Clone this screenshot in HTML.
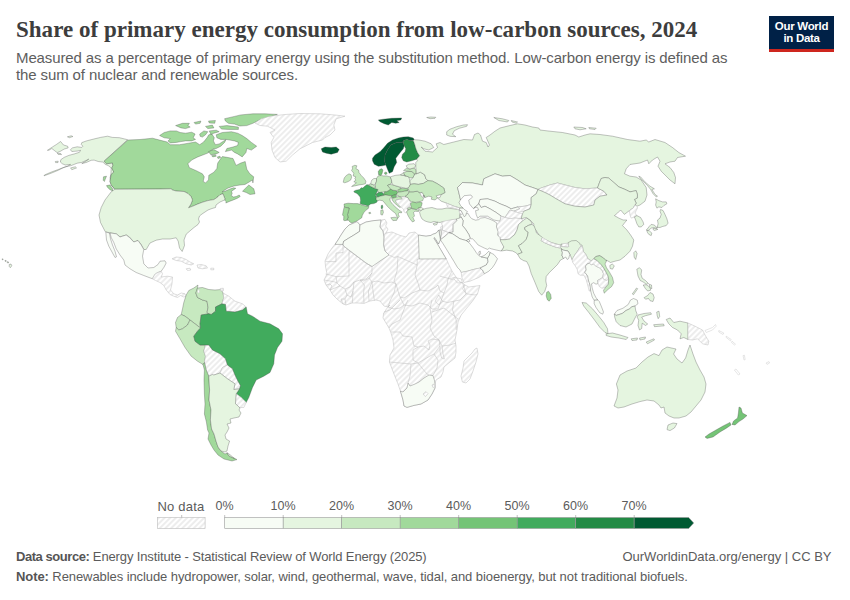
<!DOCTYPE html>
<html><head><meta charset="utf-8"><title>Share of primary energy consumption from low-carbon sources, 2024</title>
<style>
html,body{margin:0;padding:0;background:#fff;}
body{width:850px;height:600px;position:relative;overflow:hidden;font-family:"Liberation Sans",sans-serif;}
.t{position:absolute;white-space:nowrap;line-height:1;}
#title{left:16px;top:18px;font-family:"Liberation Serif",serif;font-weight:bold;font-size:23px;color:#3d3d3d;letter-spacing:0.015px;}
.sub{left:16px;font-size:15px;color:#5e5e5e;letter-spacing:-0.118px;}
#logo{position:absolute;left:769px;top:16px;width:65px;height:33px;background:#002147;border-bottom:3px solid #ce261e;color:#fff;font-weight:bold;font-size:11.5px;line-height:11.5px;text-align:center;letter-spacing:-0.3px;}
.ft{left:16px;font-size:13px;color:#5b5b5b;}
.ft b{color:#555;}
.lg{font-size:12.5px;color:#5b5b5b;}
svg{position:absolute;left:0;top:0;}
</style></head><body>
<div id="title" class="t">Share of primary energy consumption from low-carbon sources, 2024</div>
<div class="t sub" style="top:49.5px">Measured as a percentage of primary energy using the substitution method. Low-carbon energy is defined as</div>
<div class="t sub" style="top:67.3px">the sum of nuclear and renewable sources.</div>
<div id="logo"><div style="margin-top:5px">Our World</div><div>in Data</div></div>
<svg width="850" height="600" viewBox="0 0 850 600">
<defs>
<pattern id="hatch" width="4" height="4" patternUnits="userSpaceOnUse" patternTransform="rotate(-45)"><rect width="4" height="4" fill="#fff"/><path d="M-1 2H5" stroke="#dfdfdf" stroke-width="1.1" fill="none"/></pattern>
</defs>
<g id="legend" transform="translate(0.7,0)" stroke="#999" stroke-width="0.6">
<rect x="156.6" y="517.5" width="47.8" height="11" fill="url(#hatch)" stroke="#bbb"/>
<rect x="224" y="517.5" width="58.5" height="11" fill="#f7fcf5"/>
<rect x="282.5" y="517.5" width="58.5" height="11" fill="#e5f5e0"/>
<rect x="341" y="517.5" width="58.5" height="11" fill="#c7e9c0"/>
<rect x="399.5" y="517.5" width="58.5" height="11" fill="#a1d99b"/>
<rect x="458" y="517.5" width="58.5" height="11" fill="#74c476"/>
<rect x="516.5" y="517.5" width="58.5" height="11" fill="#41ab5d"/>
<rect x="575" y="517.5" width="58.5" height="11" fill="#238b45"/>
<path d="M633.5 517.5H688L693 523L688 528.5H633.5Z" fill="#005a32"/>
<path d="M224 515v2.5M282.5 515v2.5M341 515v2.5M399.500 515v2.5M458 515v2.5M516.500 515v2.5M575 515v2.5M633.500 515v2.500M181 515v2.5" fill="none"/>
</g>
<g id="map" stroke="#444" stroke-width="0.32" stroke-linejoin="round">
<path d="M47.4 150.3L51.8 147.4L56.5 144.4L60.6 141.5L63.5 145L67.6 146.2L68.2 147.9L64.1 149.1L60 151.5L57.1 152.6L54.1 150.3L51.8 148.5L48.8 150.3Z" fill="#e5f5e0"/>
<path d="M57.3 153.2L60.8 153.6L61.5 154.6L58.2 154.4Z" fill="#e5f5e0"/>
<path d="M55.3 161.5L58.2 161.2L58 162.6L55.6 162.6Z" fill="#e5f5e0"/>
<path d="M70.6 167.9L75.3 166.8L76.5 167.9L71.8 169.7Z" fill="#e5f5e0"/>
<path d="M67.4 136.8L71.2 135.8L72.9 136.5L69.4 137.7Z" fill="#e5f5e0"/>
<path d="M127.6 139.7L119.4 137.7L112.4 137.4L107.6 136.2L100.6 137.4L93.5 139.1L86.5 140.9L81.8 142.6L81.2 144.4L82.9 146.2L81.8 147.4L77.1 146.8L72.4 147.9L70.4 149.7L71.8 151.5L77.1 151.1L80.6 150.3L79.4 152.3L74.7 153.8L68.8 155.4L64.1 157.4L60.8 159.7L60.4 162.1L62.4 163.8L65.3 165L70.6 164.4L67.6 166.2L62.9 167.9L58.2 170.3L51.2 173.2L44.1 175.8L44.4 175L51.2 172.1L58.2 169.5L65.3 166.8L71.2 165.6L77.1 163.2L81.8 162.4L86.5 160.3L88.8 159.1L85.3 161.5L81.8 163.6L86.5 162.4L91.2 160.3L94.1 160.1L98.2 161.5L102.9 162.1L105.3 164.4L108.2 165.6L111.2 167.9L110.9 174.4L110 177.9L110.6 181.5L112.4 185.6L114.7 189.1L111.2 185L110 181.5L110.6 177.9L111.2 174.4L113.8 172.1L111.8 167.9L112.9 165.6L112.4 162.9L106.5 163.8L104.1 161.2Z" fill="#e5f5e0"/>
<path d="M128 140L140 139.5L152.5 138.2L159.6 140.1L167.2 142L170.3 144.7L179.5 144.7L188.6 143.2L195.5 142L199.7 144.7L203.6 142L207 137.8L208.8 134.8L211.9 134L214.3 137.8L213.4 140.9L215.4 144.7L219.2 143.9L223.8 140.9L226.1 139.4L224.6 142.4L220.8 146.2L216.2 148.5L213.1 149L207.8 153.1L197.8 156.9L191.7 160L187.9 163.8L189.4 167.7L196.3 170.7L202.4 173.8L204.3 176.8L203.2 181.4L205.5 182.9L208.5 179.9L208.8 175.3L213.9 172.2L216.9 168.4L217.7 163.1L220.8 158.5L222.3 156.6L226.9 157.3L233 158.5L236.1 165.4L240.7 163.1L245.2 161.5L246.8 169.2L249.8 173.8L253.7 176.8L252.9 182.9L252.5 180L245 184.5L240 185L234 186L228 188L224 190.5L222 192L226 190.8L230 189L233.5 187.8L235.8 188.3L233.8 189.7L231.5 191.2L232.2 193.5L231.2 195.5L233.5 197L236.2 196.5L239.2 195L240.2 196.5L237.5 198.2L234 199.7L230 201.2L225.8 203L226.2 201.8L224.5 200L225 199L224 196.5L223 193.7L220 194.7L218 196.7L214 199.6L208 200.6L203 202.1L198 203.9L193 206.1L188.5 207.8L191 204L192.5 200L191 196.5L188 193.5L184 191.5L176 191L172.5 190L171 188.8L160 189L115 189.2L114.7 189.1L111.2 185L110 181.5L110.6 177.9L111.2 174.4L113.8 172.1L111.8 167.9L112.9 165.6L112.4 162.9L106.5 163.8L104.1 161.2Z" fill="#a1d99b"/>
<path d="M159.6 135.5L164.2 132.5L170.3 130.9L176.4 130.9L180.2 132.5L185.6 133.2L191.7 132.2L195.1 134L193.2 137.8L195.5 139.4L191.7 140.9L185.6 140.9L181 141.6L176.4 142.4L170.3 142.9L168 140.9L170.3 138.6L164.2 137.8Z" fill="#a1d99b"/>
<path d="M175.6 125.6L182.5 123.3L189.4 123.3L187.9 125.6L190.2 127.1L185.6 128.6L181 127.9Z" fill="#a1d99b"/>
<path d="M194 122.5L200.9 121L200.1 123.3L195.5 124.1Z" fill="#a1d99b"/>
<path d="M208.5 121L215.4 120.5L214.7 123.3L209.3 123Z" fill="#a1d99b"/>
<path d="M205.5 126.4L212.4 125.1L213.9 127.9L207.8 128.6Z" fill="#a1d99b"/>
<path d="M199.7 134L203.9 130.9L207.8 131.7L205.5 134.8L202.4 137.1L200.1 136.3Z" fill="#a1d99b"/>
<path d="M209.3 130.9L216.2 130.2L219.2 131.7L213.9 133.2L210.8 134.3Z" fill="#a1d99b"/>
<path d="M219.2 126.4L226.9 125.6L238.4 127.1L238.4 129.4L228.4 129.4L221.5 129.1Z" fill="#a1d99b"/>
<path d="M224.6 118.7L234.5 116.4L240.7 114.9L252.9 113.8L265.1 113.8L277.4 114.4L268.2 117.5L259 120.2L252.9 123.3L246.8 125.6L239.9 126L234.5 124.1L228.4 123.3L225.4 121Z" fill="#a1d99b"/>
<path d="M216.2 134.8L222.3 132.5L231.5 131.7L237.6 133.2L242.2 135.5L246.8 138.6L251.4 142.4L256.7 146.2L251.4 150.1L246.8 148.5L246 152.4L242.2 156.9L237.6 153.9L234.5 152.4L231.5 150.1L225.4 151.6L226.9 148.5L233 147L237.6 145.5L238.4 142.4L234.5 140.9L229.9 140.1L226.1 139.4L220.8 139.4L216.9 137.8Z" fill="#a1d99b"/>
<path d="M208.5 151.6L213.9 149.6L219.2 152.4L216.2 153.9L210.8 154.7Z" fill="#a1d99b"/>
<path d="M211.6 155.7L215.4 154.7L216.2 156.2L212.8 156.9Z" fill="#a1d99b"/>
<path d="M217.4 156.9L220 156.2L220.5 157.7L218 158.5Z" fill="#a1d99b"/>
<path d="M106.5 185.6L110 185L112.4 188.5L112.9 190.9L110 189.7L107.6 187.4Z" fill="#a1d99b"/>
<path d="M103.5 176.8L106.5 176.2L105.3 179.1L104.4 181.5L103.2 180.3Z" fill="#a1d99b"/>
<path d="M115 189.2L160 189L171 188.8L172.5 190L176 191L184 191.5L188 193.5L191 196.5L192.5 200L191 204L188.5 207.8L193 206.1L198 203.9L203 202.1L208 200.6L214 199.6L218 196.7L220 194.7L223 193.7L224 196.5L225 199L224.5 200L220 202L216 205L215.5 207.5L212 208.5L208 210L205 212L202 214L199.5 216L198.5 219L199.5 222L198 224.5L194 227.5L191 230L186.2 234.2L184 240L184.5 245.5L182.2 251.5L179.5 248L178.2 241.2L176.2 237.8L170 239L162.5 239L156.2 240.2L150 243L146.2 249.5L143.8 249.5L141.2 244.5L138 240.5L133.8 242L129.5 237L126.2 235L120 236.8L116.2 233.8L105.8 232L105 231.2L100.5 222.5L99 215L101.2 207.5L105 200L111.2 191.8Z" fill="#e5f5e0"/>
<path d="M242.5 191.2L248.8 185L253.8 188.8L255 193.8L250 194.5L246.2 192.5Z" fill="#a1d99b"/>
<path d="M255 123L261.2 118.8L270 116.2L285 114.5L300 113.5L320 113.8L335 115L345 116.2L336.2 118.8L333.8 125L335 130L330 135L325 137.5L322.5 140L312.5 142.5L300 148.8L292.5 155L286.2 161.2L280 162L275 157.5L272 150L271.2 142.5L273.8 137.5L270 132.5L275 130L267.5 126.2L260 125.5Z" fill="url(#hatch)" stroke="#bcbcbc" stroke-width="0.5"/>
<path d="M321.2 148.8L325 147L331.2 147.5L336.2 147L339.2 149.5L337.5 152.5L331.2 154.2L326.2 153.2L322.5 152Z" fill="#005a32"/>
<path d="M105.8 232L109.5 233L110.5 238.8L112.5 245L115 251.2L116.5 256.8L115 257.5L112 252L108.8 246.2L106.5 240Z" fill="#f7fcf5"/>
<path d="M110 233L116.2 233.8L120 237L126.2 235L129.5 237.5L133.8 242L138 240.5L141.2 245L143.8 249.5L142.5 256.2L143.8 263.8L148 268L153.8 267.5L158 264.5L160 261.2L165 260.8L166.2 263L163.8 267.5L161.2 271.2L158 272.5L155.5 273.8L153.8 276.2L152.5 278.8L143.8 275.5L136.2 272.5L130 268.8L125 265L123.8 260L120 255L116.2 248.8L113.8 242.5L111.2 237.5Z" fill="#f7fcf5"/>
<path d="M152.5 278.8L153.8 276.2L155.5 273.8L158 272.5L161.2 271.2L162.5 273.8L161.2 277L167.5 276.2L172.5 277L172 283.8L170.5 290L173.8 293.8L177.5 295L181.2 293L185 293.8L186.2 296.2L183.8 297L180.5 295.5L177.5 297.5L173.8 296.2L170 294.5L166.2 290L163.8 285.5L160 282.5L155.5 280.5Z" fill="url(#hatch)" stroke="#bcbcbc" stroke-width="0.5"/>
<path d="M172 258.8L176.2 257L181.2 257.5L186.2 259.5L190 262L193.8 263.8L191.2 265L186.2 263.8L181.2 261.2L176.2 260.5Z" fill="url(#hatch)" stroke="#bcbcbc" stroke-width="0.5"/>
<path d="M197 265L201.2 264.5L206.2 265.8L207.5 268L202.5 268.8L198 268Z" fill="url(#hatch)" stroke="#bcbcbc" stroke-width="0.5"/>
<path d="M186.2 268.8L190 268.2L190.8 270L187.5 270.5Z" fill="url(#hatch)" stroke="#bcbcbc" stroke-width="0.5"/>
<path d="M210.8 268.2L213.8 268.2L213.8 269.8L210.8 269.8Z" fill="url(#hatch)" stroke="#bcbcbc" stroke-width="0.5"/>
<path d="M186.2 295L188.8 290.5L193.8 288L198 285L197 290L195.8 293L197.5 297.5L202.5 300L207 301.2L208 307.5L207 312.5L208.8 313.8L201.2 315L200 323.8L200.5 328L195 323.8L190 320L185 316.2L181.2 314.5L182.5 308.8L183.8 302.5Z" fill="#c7e9c0"/>
<path d="M195.8 293L197.5 288L202.5 287.5L208.8 289.5L215 290L221.2 289.5L223 293L223.8 297.5L222 303.8L215.5 307L215.5 311.2L211.2 314.5L208.8 313.8L207 312.5L208 307.5L207 301.2L202.5 300L197.5 297.5Z" fill="#c7e9c0"/>
<path d="M223 293L228.8 296.2L235 301.2L242.5 303.8L246.2 307L242.5 310L235 312L226.2 311.2L225.5 304.5L222 303.8L223.8 297.5Z" fill="url(#hatch)" stroke="#bcbcbc" stroke-width="0.5"/>
<path d="M181.2 314.5L185 316.2L190 320L187.5 325L182.5 328.8L178.8 330L176.2 327.5L175.5 322.5L177.5 317.5Z" fill="#c7e9c0"/>
<path d="M176.2 327.5L175.5 331.2L180 338.8L185 347.5L191.2 356.2L197.5 361.2L203 364.5L204.5 362.5L205.5 356.2L203.8 351.2L205.5 345L200 345L195 341.2L193.8 336.2L197.5 331.2L200.5 328L195 323.8L190 320L187.5 325L182.5 328.8L178.8 330Z" fill="#c7e9c0"/>
<path d="M205.5 345L208.8 345L212.5 350L220 353.8L225.5 358.8L227.5 365L222.5 367.5L220 373L213.8 375L210 376.2L208.8 376.2L206.2 370L204.5 362.5L205.5 356.2L203.8 351.2Z" fill="url(#hatch)" stroke="#bcbcbc" stroke-width="0.5"/>
<path d="M222.5 367.5L227.5 365L232.5 368.8L235 375L238 381.2L240.5 385.5L239.5 388.8L233.8 389.5L235 383.8L227.5 378.8L220 373Z" fill="url(#hatch)" stroke="#bcbcbc" stroke-width="0.5"/>
<path d="M201.2 315L208.8 313.8L211.2 314.5L215.5 311.2L215.5 307L222 303.8L225.5 304.5L226.2 311.2L235 312L242.5 310L246.2 307L247.5 313.8L252.5 316.2L260 321.2L270 323.8L278.8 328.8L282.5 333.8L282 341.2L277.5 347.5L274.5 355L273.8 363.8L270 372.5L263.8 376.2L256.2 380L252.5 387.5L248.8 397.5L246.2 402.5L241.2 397.5L236.2 393.8L239.5 388.8L240.5 385.5L238 381.2L235 375L232.5 368.8L227.5 365L225.5 358.8L220 353.8L212.5 350L208.8 345L205.5 345L200 345L195 341.2L193.8 336.2L197.5 331.2L200.5 328L200 323.8Z" fill="#41ab5d"/>
<path d="M236.2 393.8L241.2 397.5L246.2 402.5L243.8 407.5L238.8 407.5L235.5 403.8L235.8 397.5Z" fill="url(#hatch)" stroke="#bcbcbc" stroke-width="0.5"/>
<path d="M204.4 370L204 380L204.4 394L205 404L204.4 414L206.4 422L207.6 430L209 433L208 439L211 445L214 450L218 455L224 459L232 461L237 459.6L234 458L229 456L227 453L225 454L221 451L218 447L216 441L214 434L211.6 429L210.4 420L211 410L209 400L209.6 390L209 380L208.8 376.2L206.2 370L204.5 362.5L203 364.5Z" fill="#a1d99b"/>
<path d="M208.8 376.2L212.4 374.4L213.8 375L220 373L227.5 378.8L235 383.8L233.8 389.5L239.5 388.8L236.2 393.8L235.8 397.5L235.5 403.8L237 405L240 408L239 410L241 413L239 417L234 418L230 419L231 423L227 424L229 428L227 432L225 435L226 439L229.6 441L228 446L227 451L225 452L221 451L218 447L216 441L214 434L211.6 429L210.4 420L211 410L209 400L209.6 390L209 380Z" fill="#e5f5e0"/>
<path d="M227 452.6L229 456L234.4 458.6L230.4 455Z" fill="#e5f5e0"/>
<path d="M378.3 120L383.3 119.2L391.7 118.3L401.7 118L400.8 120L396.7 120.8L399.2 122.5L395.8 123.3L391.7 122.5L388.3 125L384.2 123.7L380 121.7Z" fill="#005a32"/>
<path d="M343.2 182.2L344.2 178L346.4 175.4L349 173.8L351.1 174.8L351.6 177.5L350.6 180.1L347.9 181.7L344.8 182.8Z" fill="#c7e9c0"/>
<path d="M352.2 166.4L354.8 165.3L356.9 165.8L355.9 168.5L358.5 170.1L359.1 172.7L361.2 175.4L363.8 178L365.9 181.2L365.4 183.8L362.8 184.4L359.1 184.9L354.8 185.9L351.6 186.5L354.3 184.4L356.4 182.8L353.8 181.7L355.9 180.1L354.8 178.5L355.9 176.9L353.2 175.9L353.8 173.2L351.6 170.6L352.5 168.5Z" fill="#c7e9c0"/>
<path d="M344 204L348 203.2L353.3 203.6L357.5 203.6L360.2 204.3L362.8 205.4L366.5 206.1L369 206.4L368.3 208.5L366 210.1L363.7 212.8L362.3 215.4L361.8 217.7L359.1 219.6L356.5 221.2L353.8 222.3L351.7 223L349.9 222L348.5 220.2L346.9 220.2L348 217.5L347.5 214.4L348.5 211.2L349.1 208L345.9 207.5L344.3 206.9Z" fill="#a1d99b"/>
<path d="M344.3 206.9L345.9 207.5L349.1 208L348.5 211.2L347.5 214.4L348 217.5L346.9 220.2L344.8 220.7L343.6 220.2L343.8 216.5L342.5 214.9L343.2 211.2L343.8 208.5Z" fill="#a1d99b"/>
<path d="M368.6 212.8L370.2 212.2L370.8 213.3L369.4 213.8Z" fill="#a1d99b"/>
<path d="M353.8 191.2L355.9 190.2L359.6 189.6L361.2 187.7L362.8 188.1L364.4 186.5L367 184.6L369.1 185.4L371.8 187L374.9 188.4L378.1 189.6L377.1 191.8L376 193.7L375.5 195.5L376.5 197.1L376 199.2L377.6 200.8L376.5 202.4L373.9 203.6L370.7 203.9L368.1 206.1L365.4 205L362.2 204.5L360.1 203.4L360.6 200.2L360.1 197.1L358.5 194.9L356.9 193.4L354.3 192.3Z" fill="#41ab5d"/>
<path d="M381.3 205.5L382.4 205L382.9 207.1L382.1 208.9L381.1 208.2Z" fill="#41ab5d"/>
<path d="M380.8 210.3L382.9 209.8L383.4 212.4L382.4 215.1L380.8 214.5Z" fill="#c7e9c0"/>
<path d="M368.6 184.6L370.7 183.8L373.9 184.9L375.5 187L374.9 188.4L371.8 187L369.1 185.4Z" fill="#c7e9c0"/>
<path d="M371.8 180.1L373.9 178.5L376.5 178.5L376.5 181.2L375.5 183.8L373.9 184.9L370.7 183.8L371.2 181.7Z" fill="#e5f5e0"/>
<path d="M376.5 178.5L378.1 175.9L380.8 175.4L383.4 175.9L386.6 175.9L390.3 176.9L391.4 179.6L391.9 182.8L389.8 184.4L387.6 185.4L389.2 187.5L390.8 189.1L388.7 190.7L386.6 191.8L384.5 191.8L381.8 192.3L378.6 192.6L377.6 190.7L378.1 189.6L374.9 188.4L375.5 187L375.5 183.8L376.5 181.2Z" fill="#c7e9c0"/>
<path d="M378.6 174.8L378.3 171.6L379.7 169.5L381.8 168.7L382.9 170.1L382.4 172.2L381.8 174.3L380.8 175.4Z" fill="#74c476"/>
<path d="M384.5 172.7L386.1 171.9L387.1 173.2L386.1 174.6L384.7 174Z" fill="#74c476"/>
<path d="M376 193.9L378.6 192.6L381.8 192.3L383.9 193.9L383.4 195.5L380.8 196L378.1 197.1L376.5 196.5Z" fill="#41ab5d"/>
<path d="M383.9 193.9L384.5 191.8L386.6 191.8L388.7 190.7L390.8 189.1L392.9 190.2L396.6 190.7L397.7 192.3L396.6 194.4L395.1 194.9L391.4 195.8L388.7 195.5L385.5 194.9L383.4 195.5Z" fill="#74c476"/>
<path d="M387.6 185.4L389.8 184.4L392.9 184.9L396.1 185.9L399.8 187L401.4 188.4L398.8 189.6L396.6 190.7L392.9 190.2L390.8 189.1L389.2 187.5Z" fill="#c7e9c0"/>
<path d="M390.3 176.9L395.1 175.4L400.4 174.8L405.6 175.9L408.8 176.9L409.9 180.6L410.4 184.4L409.4 186.5L407.8 188.1L405.6 188.4L403.5 187.7L399.8 187L396.1 185.9L392.9 184.9L391.9 182.8L391.4 179.6Z" fill="#e5f5e0"/>
<path d="M397.7 190.7L398.8 189.6L401.4 188.4L405.6 188.4L408.3 189.1L407.8 190.7L404.6 191.2L401.4 191.8L398.2 192.3Z" fill="#a1d99b"/>
<path d="M397.7 192.3L401.4 191.8L404.6 191.2L407.8 190.7L409.4 191.8L407.8 194.4L405.1 196.5L401.4 197.1L398.2 196L396.6 194.4Z" fill="#c7e9c0"/>
<path d="M391.4 195.8L395.1 194.9L396.6 195.5L396.1 197.3L393.5 198.1L391.7 197.3Z" fill="#74c476"/>
<path d="M391.7 198.1L393.5 198.1L396.1 197.3L398.2 196.5L401.4 197.3L402.5 199.2L399.3 199.4L396.6 199.7L395.6 201.3L397.7 203.9L400.9 207.1L399.8 207.4L396.6 205L394 202.4L392.4 200.2Z" fill="#c7e9c0"/>
<path d="M376.5 197.1L378.1 197.1L380.8 196L383.4 195.5L385.5 194.9L388.7 195.5L391.4 195.8L391.7 197.3L389.8 198.6L390.3 201.3L392.9 204.5L396.1 207.6L399.3 210.3L401.9 211.9L401.4 212.9L399.3 212.4L398.2 214L399.3 216.6L397.7 218.2L396.6 216.1L395.6 213.5L392.9 211.4L390.3 209.2L387.6 206.6L385 203.4L382.9 200.8L379.7 200.2L377.6 200.8L376 199.2Z" fill="#c7e9c0"/>
<path d="M390.8 217.7L395.1 217.2L397.7 218.2L396.6 220.4L392.9 220.6Z" fill="#c7e9c0"/>
<path d="M395.6 201.3L396.6 199.7L399.3 199.4L402.5 199.2L401.4 197.3L405.1 196.5L407.8 197.6L409.9 200.8L410.7 203.4L409.9 206.1L407.8 207.1L406.7 208.2L407.8 210.6L405.6 212.9L404.1 211.9L403.5 209.2L401.9 207.6L400.9 207.1L397.7 203.9Z" fill="url(#hatch)" stroke="#bcbcbc" stroke-width="0.5"/>
<path d="M407.8 194.4L409.4 191.8L413.1 191.8L417.3 191.2L419.9 192.8L421.5 196L423.6 198.1L422.6 200.8L418.9 201.8L415.2 202.4L412 202.1L409.9 200.8L407.8 197.6L405.1 196.5Z" fill="#c7e9c0"/>
<path d="M419.9 192.8L422.1 192.3L423.6 194.9L424.2 197.6L423.6 198.1L421.5 196Z" fill="url(#hatch)" stroke="#bcbcbc" stroke-width="0.5"/>
<path d="M410.5 203.5L412.5 202L416.5 202.8L420 202L422.2 202.8L421.5 206L420 208L418.5 208L416.5 209.5L413.5 209L411.5 208L410.8 205.5Z" fill="#a1d99b"/>
<path d="M407.5 208.2L410 207L411.5 208L411.5 208.5L408 210Z" fill="#c7e9c0"/>
<path d="M406.5 212L408 210L411.5 208.5L413.5 209.2L416.5 209.7L419 210.2L418.5 211.5L415 211.2L413.5 212.5L414.5 216L413 217.5L414.5 221L412.5 222L410 219L408 215.5Z" fill="#c7e9c0"/>
<path d="M409.9 180.6L413.1 177.5L414.6 173.8L416.2 173.8L420.5 172.2L424.7 174.8L425.8 178.5L427.9 180.6L423.6 183.3L418.4 184.4L414.1 183.8L410.4 184.4Z" fill="#e5f5e0"/>
<path d="M403.5 172.7L407.8 171.1L412 171.6L414.6 173.8L413.1 177.5L409.9 178L408.8 176.9L405.6 175.9L404.1 174.8Z" fill="#c7e9c0"/>
<path d="M403.5 170.6L406.2 168.5L409.9 169L414.1 167.9L416.2 170.6L416.2 173.8L414.6 173.8L412 171.6L407.8 171.1Z" fill="#c7e9c0"/>
<path d="M406.2 165.8L408.8 164.2L414.1 163.7L415.7 165.8L414.1 167.9L409.9 169L407.2 167.9Z" fill="#e5f5e0"/>
<path d="M400.4 174.8L403.5 172.7L404.1 174.8L405.6 175.9Z" fill="#e5f5e0"/>
<path d="M372.5 158.3L375 155L380 151.7L383.3 148.3L387.5 143.3L392.5 140L398.3 138L403.3 137L408.3 136.7L413.3 138L414.2 140L410 140.8L407 139.2L403.3 140.8L402.5 142.5L396.7 142.5L390.8 145L387.5 150L385 155L384.7 161.7L385.8 165L382.5 165.8L378.3 166.3L374.2 164.2L372.5 160.8Z" fill="#005a32"/>
<path d="M385.8 165L387.5 169.2L389.2 173.3L392.5 171.7L394.2 166.7L396.7 162.5L395.8 158.3L398.3 155L400.8 151.7L403.3 148.7L404.2 145.8L403.3 142.5L403.3 140.8L402.5 142.5L396.7 142.5L390.8 145L387.5 150L385 155L384.7 161.7Z" fill="#005a32"/>
<path d="M403.3 140.8L407 139.2L410 140.8L413.3 140.5L414.7 144.2L415.8 148.3L417.5 152.5L419.7 155.8L416.7 159.2L411.7 160.8L406.7 162L403.3 160.8L401.7 157.5L402.5 154.2L405 151.7L405.8 148.7L404.2 145.8L403.3 142.5Z" fill="#238b45"/>
<path d="M446.7 131.7L450 129.2L456.7 126.7L463.3 125L467.5 124.7L466.7 126.3L459.2 128.3L454.2 130.8L452.5 134.2L455.8 136.7L450 136.3L446.7 135Z" fill="#e5f5e0"/>
<path d="M426.7 117.5L430.8 117L435.8 117.3L435 118.3L430 118.7Z" fill="#e5f5e0"/>
<path d="M414.2 139.7L418.8 140L425 141.2L431.2 143.8L433.8 147.5L428.8 150L423.8 148.8L421.2 147L425 151.2L432.5 152L437.5 147.5L436.2 143.8L440 142.5L443.8 144.5L453.8 142L463.8 139.5L472.5 140L474.5 134.5L478 133L480.5 135L482.5 141.2L486.2 142.5L488 147L489.5 145L486.2 137.5L490 135L495 131.2L500 128L510 125.5L517.5 123.8L525 125L532.5 127L538.8 128L540 130L550 131.2L562.5 132.5L575 135L578.8 137L585 135L590 133.8L600 134.5L612.5 136.2L627.5 139.5L640 141.2L646.2 140L648.8 142L655 139.5L665 142.5L672.5 147.5L678.8 152.5L685.5 156.2L677.5 157.5L675 161.2L670 162L665 163.8L670 167.5L673.8 172.5L675.5 177.5L675 183.8L670 180L665 175L661.2 171.2L658 166.2L660 161.2L657.5 157L652.5 160L648.8 163.8L647.5 160L640 163L630 164.5L626.2 168.8L624.5 173.8L630 176.2L636.2 177L641.2 180L646.2 187.5L647 195L645 201.2L640 205L637 206.2L635 205L636.2 203.1L634.4 199.4L637.2 198.1L637.5 195L636.2 190.6L630 191.9L625 189.4L618.8 186.9L613.8 182.5L608.8 178.1L605 177.5L601.2 178.5L599.5 182.5L597.5 188L585 188.8L575 187.5L565 185L557.5 183L550 185L541.2 188L538 189.5L532.5 187.5L525 185L517.5 180L510 175.5L502.5 176.2L495 173.8L483.8 178.8L482.5 185L472.5 183L462.5 182.5L457.5 187.5L458.8 192.5L460.5 199.8L459 202.5L460.5 205.5L463.2 208.2L459.9 208L453.8 206.2L446.2 203L441.2 201.2L437.5 198L440 197.5L441.2 194.5L445 192.5L443.8 188L437.5 183.8L432.5 181.2L428 180.8L427.9 180.6L425.8 178.5L424.7 174.8L420.5 172.2L416.2 173.8L416.2 170.6L415.8 167.5L415.8 162.5L417.5 160.8L416.7 159.2L419.7 155.8L417.5 152.5L415.8 148.3L414.7 144.2L413.3 140.5Z" fill="#e5f5e0"/>
<path d="M493.8 117.5L502.5 118.8L508.8 120.5L507.5 122L498.8 120.5Z" fill="#e5f5e0"/>
<path d="M511.2 120.5L517.5 122L516.2 123.2L512 122Z" fill="#e5f5e0"/>
<path d="M573.8 127L582.5 127.5L586.2 128.8L580 129.8L575 128.8Z" fill="#e5f5e0"/>
<path d="M588.8 127.5L596.2 128.2L595 129.5L589.5 128.8Z" fill="#e5f5e0"/>
<path d="M638.8 176.2L640.6 176.9L645 181.9L650 186.2L654.4 188.8L651.9 189.4L655 194.4L657.5 196.2L656.2 196.9L653.1 193.8L650.6 189.4L647.5 185.6L643.8 181.9L640 178.1Z" fill="#e5f5e0"/>
<path d="M409.4 186.5L410.4 184.4L414.1 183.8L418.4 184.4L423.6 183.3L427.9 180.6L432.5 181.2L437.5 183.8L443.8 188L445 192.5L441.2 194.5L436.2 195.8L437.5 198L435 200L431.2 199.2L432 197L428.8 196.2L425 197.5L423.8 195L424.2 197.6L423.6 194.9L422.1 192.3L419.9 192.8L417.3 191.2L413.1 191.8L409.4 191.8L408.3 189.1L407.8 188.1Z" fill="#c7e9c0"/>
<path d="M458.8 192.5L457.5 187.5L462.5 182.5L472.5 183L482.5 185L483.8 178.8L495 173.8L502.5 176.2L510 175.5L517.5 180L525 185L532.5 187.5L538 189.5L536.2 193.8L531.2 197.5L531.2 204.5L525 206.2L517.5 207L511.2 208.8L506.2 206.2L500 203.8L495 201.2L487.5 198.8L480 199.5L478.8 203.8L476.2 206.2L473.7 208.5L472.5 207.7L469.5 204L468.7 200.2L472.5 197.2L471 195L464.2 195.7L460.5 199.8Z" fill="#f7fcf5"/>
<path d="M478.8 203.8L480 199.5L487.5 198.8L495 201.2L500 203.8L506.2 206.2L511.2 208.8L517.5 207L520 208.8L513.8 211.2L510 210L507.5 213.8L505 217.5L501.2 216.2L496.2 212.5L490 208.8L485 206.2L481.2 207.5Z" fill="#f7fcf5"/>
<path d="M473.7 208.5L476.2 206.2L478.8 203.8L481.2 207.5L485 206.2L490 208.8L496.2 212.5L501.2 216.2L500 221.2L493.8 220L487.5 216.2L480 216.2L477.7 218.2L476.2 214.5L475.5 210.7L478.5 210L477.7 207.7L474.7 207Z" fill="#f7fcf5"/>
<path d="M517.5 207L525 206.2L531.2 204.5L530 208.8L523.8 211.2L517.5 212.5L513.8 211.2L520 208.8Z" fill="url(#hatch)" stroke="#bcbcbc" stroke-width="0.5"/>
<path d="M510 210L513.8 211.2L517.5 212.5L522.5 213.8L521.2 218.8L515 218L510 218.8L505 217.5L507.5 213.8Z" fill="url(#hatch)" stroke="#bcbcbc" stroke-width="0.5"/>
<path d="M496.7 224.7L500 221.3L501.2 216.2L505 217.5L509.9 218.7L515 218L521.2 218.7L523.3 220.4L520.7 222.5L518.5 224.7L517 230L514.7 234.5L509.5 239L505 239.7L499 239.7L498.2 234.5L496 230Z" fill="url(#hatch)" stroke="#bcbcbc" stroke-width="0.5"/>
<path d="M524.5 227.7L525.2 230L528.2 232.2L527.5 236L526 239.7L522.2 243.5L518.5 245.7L520 248.7L522.2 252.5L517.7 254.3L515.5 252.5L512.5 251L506.5 250.2L501.2 251L503.5 247.2L502 245L499 239.7L505 239.7L509.5 239L514.7 234.5L517 230L518.5 224.7L520.7 222.5L523.3 220.4L526.7 218L530.2 220.2L532.3 224L528.2 225.5Z" fill="#e5f5e0"/>
<path d="M459.4 217.5L460.6 214.4L463.1 212.5L465.6 213.8L468.1 213.5L470 216.9L471.9 218.8L475.6 220.2L478.8 219.6L480.6 218.1L485 217.5L488.8 218.8L493.1 220.6L496.9 223.1L496.5 226.9L498.1 231.9L497.5 235L500 237.5L500.6 241.2L503.8 246.9L501.9 250L501 251L496.2 250L491.2 248.8L489.4 248.1L487.5 249.4L484.4 248.1L481.2 246.5L478.1 245L475 241.2L472.5 238.8L470.6 238.8L470 237.5L468.8 234.4L465.6 229.4L462.5 225.6L463.1 220.6L461.2 216.9Z" fill="#f7fcf5"/>
<path d="M541.2 188L550 185L557.5 183L565 185L575 187.5L585 188.8L597.5 188L603.8 191.2L607 195L600 196.2L595 200L593.8 205L585 207L575 206.2L565 203.8L556.2 198.8L550 195L545 192.5L538 189.5Z" fill="url(#hatch)" stroke="#bcbcbc" stroke-width="0.5"/>
<path d="M419.5 212L422 209.5L427 208.2L432 207.5L437 209L442 209L447 208L451 208.5L455 209L459 209.5L460.5 212L459.5 215L460 218L458 219.5L454 219.8L450 220.5L447 222L443 221.5L440 222.5L437 222.2L434 221.5L431 222.5L428 222L425 221L422 219L420.5 216L420 214Z" fill="#e5f5e0"/>
<path d="M418.5 208L421.5 207.5L423.5 209L421 210.5L419 210Z" fill="#e5f5e0"/>
<path d="M446.2 203L453.8 206.2L460 208L458.8 210L453.8 208L447.5 207Z" fill="url(#hatch)" stroke="#bcbcbc" stroke-width="0.5"/>
<path d="M459 210L461.2 210.7L462.7 213.7L461.7 214.8L459.3 212.2Z" fill="url(#hatch)" stroke="#bcbcbc" stroke-width="0.5"/>
<path d="M459.9 208L463.2 208.2L465 210L467.4 211.5L466.2 213.7L465.7 215.7L464.2 216.7L462.7 213.7L461.2 210.7L459 210Z" fill="#f7fcf5"/>
<path d="M442.5 221.5L448.8 220.2L456.2 219L456.9 221L453.1 224.4L453.1 231.9L448.8 232.8L445 231.2L442.2 230L442.5 225.6L441.5 223.8Z" fill="url(#hatch)" stroke="#bcbcbc" stroke-width="0.5"/>
<path d="M456.2 219L459.4 218.1L461.2 216.9L463.1 220.6L462.5 225.6L465.6 229.4L468.8 234.4L470 237.5L468.8 239.4L466.2 240.6L460 238.8L452.5 233.8L448.8 232.8L453.1 231.9L453.1 224.4L456.9 220.6Z" fill="#f7fcf5"/>
<path d="M440.4 239.8L441.2 233.1L442.2 230L445 231.2L448.8 232.8L445 236.2Z" fill="url(#hatch)" stroke="#bcbcbc" stroke-width="0.5"/>
<path d="M438.8 230L441 229.8L441.2 233.1L440.4 239.8L439.6 235Z" fill="#f7fcf5"/>
<path d="M440.6 226.9L442.5 225.6L442.2 230L441 229.8Z" fill="url(#hatch)" stroke="#bcbcbc" stroke-width="0.5"/>
<path d="M433 223.8L437.5 222.2L437 224.5L434.2 225.2Z" fill="#e5f5e0"/>
<path d="M466.2 240.6L468.8 239.4L470 241.2L468.1 241.9Z" fill="#f7fcf5"/>
<path d="M538 189.5L545 192.5L550 195L556.2 198.8L565 203.8L575 206.2L585 207L593.8 205L595 200L600 196.2L607 195L603.8 191.2L597.5 188L599.5 182.5L601.2 178.5L605 177.5L608.8 178.1L613.8 182.5L618.8 186.9L625 189.4L630 191.9L636.2 190.6L637.5 195L637.2 198.1L634.4 199.4L636.2 203.1L635 205L633.1 208.1L629.4 210.6L626.9 212.5L624.4 214.4L620.6 210L617.5 213.1L614.4 215.6L618.8 218.1L623.1 220L626.9 220L624.4 223.1L622.5 225.6L626.9 230L630.6 235L633.8 240L633.8 240L632.5 246.2L630 251.2L625 256.2L620 260L615 261.2L610.5 262.5L606.2 260L606.5 261L603.5 258L599.7 255.7L596 256.5L593.7 258.7L591.5 261L587.7 258.7L586.2 255L583.2 251.2L582.5 246.7L579.5 244.5L575 241.2L571.2 243.8L568 244L562.5 244.5L560 245L551.2 242.5L545 239.5L541.2 238.8L537.5 232.5L533.8 227.5L533.8 223.8L530 220L526.2 217.5L521.2 218.8L522.5 213.8L523.8 211.2L530 208.8L531.2 204.5L531.2 197.5L536.2 193.8Z" fill="#e5f5e0"/>
<path d="M629.4 210.6L633.1 208.1L635 205L637 206.2L637.5 208.1L636.2 210.6L635 213.1L636.9 215.6L634.4 216.9L633.1 217.5L631.2 218.1L630 215Z" fill="url(#hatch)" stroke="#bcbcbc" stroke-width="0.5"/>
<path d="M634.4 216.9L636.9 215.6L640.6 217.5L643.1 221.9L643.8 224.4L641.2 226.9L638.8 226.9L636.9 223.8L635.6 220Z" fill="#e5f5e0"/>
<path d="M655.6 198.8L658.8 200.6L662.5 201.9L666.2 201.9L666.9 203.8L663.8 205.6L661.9 207.5L658.8 206.9L656.9 208.1L655.6 205L656.2 201.9Z" fill="#e5f5e0"/>
<path d="M660.6 209.4L663.1 210.6L665 214.4L666.9 218.8L668.1 223.1L666.2 225.6L662.5 226.5L660 227.5L656.2 227.2L654.4 225L651.2 224.4L649.4 226.2L647.5 228.8L646.2 230L648.1 230.6L651.2 228.1L653.8 227.5L656.9 228.5L658.1 223.8L657.5 220L660 218.1L661.2 214.4L660 211.2Z" fill="#e5f5e0"/>
<path d="M646.9 230.2L649.4 230.9L651.9 233.1L651.2 235.6L648.8 234.4L647.2 232.1Z" fill="#e5f5e0"/>
<path d="M653.1 228.4L656.9 228.8L657.8 229.4L654.4 230.5L653.1 229.6Z" fill="#e5f5e0"/>
<path d="M633.8 252.7L635.7 250.8L637.1 253.5L635.7 259.5L634.2 257.2Z" fill="#e5f5e0"/>
<path d="M609.8 265.5L612.2 264L614.3 265.8L612.5 269.2L610.2 268.5Z" fill="#e5f5e0"/>
<path d="M524.5 227.7L528.2 225.5L532 224.3L534.2 226.2L535.7 230L536.5 233L539.5 235.2L542.5 237.5L541 240.5L544.7 242.7L550 245L556 247.2L560.5 248L560.5 245L562 243.8L561.7 246.5L568 246.8L568.7 246.5L568 242.7L571.7 240.8L576.2 240.5L580 243.5L582.2 245.7L580 247.2L577.7 251L575.5 254L573.2 257.7L572.2 260L571 257L570.2 254.7L568 251L563.5 250.2L561.2 248.7L562.4 252.5L562 255.5L563.5 258.5L560.5 260L557.5 264.5L553 269L549.2 272.7L546.2 276.5L545.8 281L546.7 285.5L544.7 291.5L541.7 295.2L538.7 291.5L535 282.5L531.2 273.5L529 266L526.7 261.5L523.7 260.7L520 258.5L517.7 254.3L522.2 252.5L520 248.7L518.5 245.7L522.2 243.5L526 239.7L527.5 236L528.2 232.2L525.2 230Z" fill="#e5f5e0"/>
<path d="M542.5 237.5L541 240.5L544.7 242.7L550 245L556 247.2L560.5 248L560.5 245L556 244.2L550 242L545.5 239.3Z" fill="url(#hatch)" stroke="#bcbcbc" stroke-width="0.5"/>
<path d="M562 243.8L568 243.2L568.7 246.5L568 246.8L561.7 246.5Z" fill="url(#hatch)" stroke="#bcbcbc" stroke-width="0.5"/>
<path d="M561.2 248.7L563.5 250.2L568 251L569.8 254.3L568.7 258.5L567.2 259.5L565.7 257L563.5 258.5L562 255.5L562.4 252.5Z" fill="#f7fcf5"/>
<path d="M546.7 292.2L548.5 291.2L550.7 294.5L551.2 298.2L549.2 301.2L547.3 299.7L546.2 296Z" fill="#a1d99b"/>
<path d="M579.5 244.5L582.5 246.7L583.2 251.2L586.2 255L587.7 258.7L591.5 261L589.2 263.2L587 264L585.5 266.2L586.2 270L584.7 272.2L587.7 276L588.5 280.5L590 285L590.7 291L589.2 291L587.7 285L586.2 279.7L584 275.2L580.2 275.2L578 273.7L577.2 269.2L575 265.5L572.7 262.5L572.1 259.9L573.2 257.7L575.4 253.9L577.7 250.9L579.9 247.2L582.2 245.7Z" fill="url(#hatch)" stroke="#bcbcbc" stroke-width="0.5"/>
<path d="M585.5 266.2L587 264L589.2 263.2L591.5 264.7L593.7 264L596 266.2L599.3 267.7L602 270L603.5 273.7L602.7 277.5L599.7 279.3L597.5 280.5L598.2 283.5L596 284.2L593.7 282.7L591.5 283.8L592.2 288L593.7 293.2L596 297.7L597.8 300L594.2 300.3L592.2 297L590.7 291L590 285L588.5 280.5L587.7 276L584.7 272.2L586.2 270Z" fill="#f7fcf5"/>
<path d="M591.5 261L593.7 258.7L596.7 260.2L599 262.5L601.2 264.7L603.5 267.7L605.7 271.5L608 276L608.7 279.3L606.5 280.5L603.5 279.3L602.7 277.5L603.5 273.7L602 270L599.3 267.7L596 266.2L593.7 264L591.5 264.7L589.2 263.2Z" fill="url(#hatch)" stroke="#bcbcbc" stroke-width="0.5"/>
<path d="M597.5 280.5L599.7 279.3L602.7 277.5L603.5 279.3L606.5 280.5L608.7 279.3L608.3 284.2L605.7 287.2L602 288.3L599.3 286.5L598.2 283.5Z" fill="url(#hatch)" stroke="#bcbcbc" stroke-width="0.5"/>
<path d="M593.7 258.7L596 256.5L599.7 255.7L603.5 258L606.5 261L605 264L606.5 267.7L609.5 272.2L612.5 277.5L613.7 282.7L611.7 286.5L608 289.5L604.2 293.2L603.5 290.2L605.7 287.2L608.3 284.2L608.7 279.3L608 276L605.7 271.5L603.5 267.7L601.2 264.7L599 262.5L596.7 260.2Z" fill="#c7e9c0"/>
<path d="M594.2 300.3L597.8 300L599.3 301.5L601.2 306L603.5 312L602.7 314.2L599.7 312.7L596 307.5L594.2 303.7Z" fill="#f7fcf5"/>
<path d="M582 302.5L586.2 303L592.5 308.8L598.8 316.2L603.8 322.5L607.5 328.8L608 333.8L605 332.5L600 327.5L594.5 320L588.8 312.5L583.8 306.2Z" fill="#e5f5e0"/>
<path d="M606.2 333.8L612.5 333L620 335L628 337.5L626.2 339.5L618.8 338L611.2 337L606.2 335.5Z" fill="#e5f5e0"/>
<path d="M631.2 338.8L637.5 338L637 340L632 340.5Z" fill="#e5f5e0"/>
<path d="M639.5 338L645.5 337L645 339L640 340Z" fill="#e5f5e0"/>
<path d="M646.2 342L653.8 338.8L654.5 340L647.5 343.8Z" fill="#e5f5e0"/>
<path d="M614.3 314.2L617 310.5L623 308.2L628.2 304.5L630.5 300L633.5 298.5L637.2 300L638 303.7L635 306L632 306.7L629.3 309L626 310.5L622.2 313.5L618.5 314.7L616.2 315.4Z" fill="#f7fcf5"/>
<path d="M616.2 315.4L618.5 314.7L622.2 313.5L626 310.5L629.3 309L632 306.7L635 306L635.7 310.5L637.2 314.2L635 318L632 324L626 327L620 325.5L616.2 321.7L614.7 317.2L614.3 314.2Z" fill="#e5f5e0"/>
<path d="M638 315L644 313.5L650.7 312.7L651.5 314.2L645.5 315.7L641.7 317.2L644 321L647.7 324L645.5 325.5L642.2 323.2L641.7 328.5L639.5 330L638 325.5L638.7 320.2L637.2 317.2Z" fill="#e5f5e0"/>
<path d="M656.7 312L659 311.2L659.7 316.5L658.2 318.7L657.2 315.7Z" fill="#e5f5e0"/>
<path d="M653.7 324.7L663.5 324L664.2 325.8L654.5 326.7Z" fill="#e5f5e0"/>
<path d="M666.2 319.5L670 318L673.8 322.5L680 321.2L688 323L688 339.5L683.8 337.5L680 338.8L681.2 333.8L677.5 330L672.5 327.5L668.8 323.8Z" fill="#e5f5e0"/>
<path d="M688 323L695 326.2L702.5 330L705 335L708.8 341.2L708 345L702.5 343.8L697.5 338.8L692.5 340L688 339.5Z" fill="url(#hatch)" stroke="#bcbcbc" stroke-width="0.5"/>
<path d="M705 330.5L712.5 327.5L715.5 324.5L716.2 326.2L712.5 330L706.2 332.5Z" fill="#ffffff" stroke="#cccccc" stroke-width="0.5"/>
<path d="M718.8 330.5L723.8 333L723 334.5L718.8 332Z" fill="#ffffff" stroke="#cccccc" stroke-width="0.5"/>
<path d="M726.2 336.2L731.2 339.5L730.5 340.8L726.2 337.5Z" fill="#ffffff" stroke="#cccccc" stroke-width="0.5"/>
<path d="M732 341.2L735.5 344.2L734.5 345L731.5 342.5Z" fill="#ffffff" stroke="#cccccc" stroke-width="0.5"/>
<path d="M636.8 269.2L639.5 267.7L641.7 270L641 274.5L642.2 278.2L645.5 280.5L648.5 283.5L646.2 284.2L643.2 282L640.2 280.5L638 276Z" fill="#e5f5e0"/>
<path d="M643.2 285L646.2 284.7L650 287.2L650.7 290.2L647.7 291L645.5 288.7Z" fill="#e5f5e0"/>
<path d="M649.2 284.2L651.5 285L651.8 288.7L650 287.7Z" fill="#e5f5e0"/>
<path d="M644 297.7L647.7 295.5L650 292.5L653 294L654.2 297.7L653 301.5L650 300.7L648.5 298.5L645.5 299.2Z" fill="#e5f5e0"/>
<path d="M632.3 294L636.5 288L637.7 288.7L633.5 294.7Z" fill="#e5f5e0"/>
<path d="M351.6 224L357 221.6L360 225L366 222L374 220.6L381 220L385 219.4L387 223L385.6 226L388 229L386 233L392 232L400 235.4L406 237L409 233L415 232L418.4 235L426 236.2L431 235.4L432.5 234.4L436.2 233.1L438.8 230L439.6 235L440.4 239.8L438.5 244L436.2 240L434.4 237.5L434 238.5L436.9 243.1L440.6 249.4L445 256.9L446.2 258.8L449 265L452 271L456 277L460 282L462 282.5L465 285L468.8 287L475 286.2L480 285.5L477.5 293.8L472.5 301.2L466.2 308.8L461.2 315L458 322L457 330L455 340L456 346L456 352L455 358L450 362L444 367L443 372L441 377L436 380L435 384L435 388L432 394L428 400L421 404L414 405.4L407 407.4L404 406L403 400L400.4 391L398 384L394 374L389.4 362L390 355L394 348L393 340L391 333L389 328L383 318L383.6 313L384 313L386.4 309L390 305L388 307L384 306L380 301L376 300L370 301L364 303.4L358 303L352 303L346 305L343 304L337 299L333 295L330 290L326 285L324 280L327 274L325.6 267L325 261L328 254L332 248L335 244.4L338 240L341 235L345 229L349 225Z" fill="url(#hatch)" stroke="#bcbcbc" stroke-width="0.5"/>
<path d="M351.6 224L357 221.6L360 225L359.6 231.4L354 235L348 238.6L343.6 241.4L343 244.4L335 244.4L338 240L341 235L345 229L349 225Z" fill="#f7fcf5"/>
<path d="M360 225L366 222L374 220.6L381 220L380 227L383 231L384 237L383.6 245L385 251L389 255L380 261L372 266.6L366 263L358 257L350 251L343.6 246L343 244.4L343.6 241.4L348 238.6L354 235L359.6 231.4Z" fill="#f7fcf5"/>
<path d="M418.4 235L426 236.2L431 235.4L432.5 234.4L436.2 233.1L438.8 230L439.6 235L440.4 239.8L438.5 244L436.2 240L434.4 237.5L434 238.5L436.9 243.1L440.6 249.4L445 256.9L446.2 258.8L419.2 259Z" fill="#f7fcf5"/>
<path d="M400.4 391L403 392L407 388L408 383L410 386L415 384L419 382L424 378L429 375L433 375.6L434.4 380L435 384L435 388L432 394L428 400L421 404L414 405.4L407 407.4L404 406L403 400Z" fill="#f7fcf5"/>
<path d="M423 394L426 391.6L428 393.6L425.4 396.6Z" fill="url(#hatch)" stroke="#bcbcbc" stroke-width="0.5"/>
<path d="M432 385L434 384L435 386.4L433 387.6Z" fill="url(#hatch)" stroke="#bcbcbc" stroke-width="0.5"/>
<path d="M475 349L477 348L478 354L476 362L473 371L470 379L466 383L462.4 382L461 376L463 368L464 361L468 357L472 353Z" fill="url(#hatch)" stroke="#bcbcbc" stroke-width="0.5"/>
<path d="M440.4 239.8L445 236.2L448.8 232.8L452.5 233.8L460 238.8L466.2 240.6L468.1 241.9L470 243.8L473.8 248.8L476.2 252.5L478.8 255.6L481.2 256.9L487.5 258.1L488.1 261.9L486.2 265L480 268.1L473.8 269.4L467.5 271.2L461.2 272.5L460 270L457.5 267.5L453.8 261.2L450 255L446.2 248.8L443.1 243.8Z" fill="#f7fcf5"/>
<path d="M461.2 272.5L467.5 271.2L473.8 269.4L480 268.1L482.5 270L484.4 273.8L478.8 277.5L470 281.2L463.8 282.5L461.9 277.5Z" fill="url(#hatch)" stroke="#bcbcbc" stroke-width="0.5"/>
<path d="M488.1 261.9L487.5 258.1L489.4 255L490 252.5L493.8 254.4L497.5 258.8L495 263.8L492.5 267.5L488.8 271.2L484.4 273.8L482.5 270L480 268.1L486.2 265Z" fill="#f7fcf5"/>
<path d="M481.2 256.9L485 255L488.8 251.2L489.8 252.5L489.4 255L487.5 258.1Z" fill="#f7fcf5"/>
<path d="M478.8 251.9L480.2 251L480.6 253.8L479.4 255Z" fill="#f7fcf5"/>
<path d="M614 406L617 398L618 390L616.4 384L620 375L627 371L636 368L642 362L648 357L654 353.6L659 355.6L662 350L667 347L676 349L673.6 354L677 359L682 363L685.6 358L688 350L690 345L693 354L696 362L700 370L704 377L706 384L705 392L701 400L696 406L691 412L686 416L679 418L674 418L669 416L665 413L664 407L661 408L659 405L654 401L647 400L640 401.6L632 404L624 407L618 408Z" fill="#e5f5e0"/>
<path d="M668 425L673 423L677 423.6L674.4 428L670 430.6L667 429.6Z" fill="#e5f5e0"/>
<path d="M739 407L741 408L742.4 413L747 415.6L743 419L739 421.6L735 425L732 424.4L733.6 421L737.6 418L738.4 413Z" fill="#74c476"/>
<path d="M730 422.4L731 425L726 428.4L720 432L713 437L707 438.4L705 437L709 434L716 430L723 426Z" fill="#74c476"/>
<path d="M734.4 370L736 369L740 374L738.4 375Z" fill="#ffffff" stroke="#cccccc" stroke-width="0.5"/>
<path d="M743 355.6L744.4 355.2L745.2 359.6L744 360Z" fill="#ffffff" stroke="#cccccc" stroke-width="0.5"/>
<path d="M766 363L769 361.6L769.6 363L767 364.4Z" fill="#ffffff" stroke="#cccccc" stroke-width="0.5"/>
<path d="M9.2 264.5L11 264L11.8 265.8L10.3 267.7L9.3 266.7Z" fill="#e5f5e0"/>
<path d="M7 261.7L8.7 262L8.3 263L7.2 262.7Z" fill="#e5f5e0"/>
<path d="M5 260.3L6.3 260.7L6 261.5L5 261.2Z" fill="#e5f5e0"/>
<path d="M2.2 258.8L3.2 259L3 259.8L2.2 259.7Z" fill="#e5f5e0"/>
<path d="M220.2 288.5L223.3 288.2L223.5 290.6L220.9 291.2Z" fill="url(#hatch)" stroke="#bcbcbc" stroke-width="0.5"/>
<path d="M198.5 289.2L199.5 290L199.4 292.4L198.2 293.2L197.5 291.5Z" fill="#ffffff" stroke="#cccccc" stroke-width="0.5"/>
<path d="M383.6 235.0L384.0 237.0L383.6 245.0L385.0 251.0L389.0 255.0L394.0 257.4L398.0 256.6L417.2 265.0L417.2 259.4L419.2 259.0" fill="none" stroke="#bcbcbc" stroke-width="0.5"/>
<path d="M381.0 220.0L380.0 227.0L383.0 231.0L383.6 235.0L386.0 233.0" fill="none" stroke="#bcbcbc" stroke-width="0.5"/>
<path d="M325.6 261.6L336.0 261.6L336.0 253.0L343.0 252.6L343.0 244.4" fill="none" stroke="#bcbcbc" stroke-width="0.5"/>
<path d="M343.6 246.0L350.0 251.0L349.0 251.4L349.0 276.0L336.0 276.6L330.0 275.0L325.6 274.0" fill="none" stroke="#bcbcbc" stroke-width="0.5"/>
<path d="M350.0 251.0L358.0 257.0L366.0 263.0L372.0 266.6L372.0 273.0L366.0 279.0L360.0 280.0L354.0 282.0L350.0 287.0L345.0 289.0L340.0 286.0L337.0 283.0L336.0 276.6" fill="none" stroke="#bcbcbc" stroke-width="0.5"/>
<path d="M398.0 256.6L397.0 271.0L394.0 281.0L396.0 284.0L392.0 282.0L384.0 283.0L377.0 281.0L372.0 282.0L369.0 278.0L372.0 273.0" fill="none" stroke="#bcbcbc" stroke-width="0.5"/>
<path d="M417.2 265.0L415.0 275.0L418.0 283.0L420.0 290.0L412.0 293.0L404.0 298.0L400.0 297.0L398.0 291.0L396.0 284.0" fill="none" stroke="#bcbcbc" stroke-width="0.5"/>
<path d="M396.0 284.0L394.0 293.0L390.0 301.0L388.0 307.0" fill="none" stroke="#bcbcbc" stroke-width="0.5"/>
<path d="M372.0 282.0L373.0 291.0L374.4 300.6" fill="none" stroke="#bcbcbc" stroke-width="0.5"/>
<path d="M369.0 278.0L364.0 281.0L360.0 280.0" fill="none" stroke="#bcbcbc" stroke-width="0.5"/>
<path d="M364.0 303.4L363.6 293.0L364.4 285.0L360.0 280.0" fill="none" stroke="#bcbcbc" stroke-width="0.5"/>
<path d="M369.0 301.0L368.4 291.0L372.0 282.0" fill="none" stroke="#bcbcbc" stroke-width="0.5"/>
<path d="M354.0 282.0L353.0 291.0L352.4 303.0" fill="none" stroke="#bcbcbc" stroke-width="0.5"/>
<path d="M345.0 289.0L347.0 295.0L351.0 297.0L353.0 291.0" fill="none" stroke="#bcbcbc" stroke-width="0.5"/>
<path d="M346.0 305.0L345.0 299.0L347.0 295.0" fill="none" stroke="#bcbcbc" stroke-width="0.5"/>
<path d="M343.0 304.0L341.0 299.0L345.0 299.0" fill="none" stroke="#bcbcbc" stroke-width="0.5"/>
<path d="M330.0 290.0L335.0 288.0L340.0 286.0" fill="none" stroke="#bcbcbc" stroke-width="0.5"/>
<path d="M324.0 280.0L330.0 281.0L335.0 282.0L337.0 283.0" fill="none" stroke="#bcbcbc" stroke-width="0.5"/>
<path d="M330.0 290.0L332.0 286.0L330.0 284.0L326.0 285.0" fill="none" stroke="#bcbcbc" stroke-width="0.5"/>
<path d="M420.0 290.0L428.0 291.0L436.0 287.0L438.0 285.0L440.0 291.0L444.0 293.0L447.0 285.0L448.0 279.0L452.0 271.0" fill="none" stroke="#bcbcbc" stroke-width="0.5"/>
<path d="M400.0 297.0L404.0 305.0L412.0 306.0L420.0 303.0L428.0 305.0L432.0 309.0L438.0 309.0L444.0 293.0" fill="none" stroke="#bcbcbc" stroke-width="0.5"/>
<path d="M388.0 307.0L394.0 309.0L400.0 308.0L404.0 305.0" fill="none" stroke="#bcbcbc" stroke-width="0.5"/>
<path d="M462.0 282.5L457.5 283.0L453.8 278.8L450.0 280.0" fill="none" stroke="#bcbcbc" stroke-width="0.5"/>
<path d="M465.0 285.0L462.5 288.8L466.2 293.8L475.0 295.0L477.5 293.8" fill="none" stroke="#bcbcbc" stroke-width="0.5"/>
<path d="M440.0 276.2L445.0 277.5L450.0 278.8L453.8 277.5L461.2 278.8L466.2 293.8L460.0 300.0L453.8 301.2L447.5 302.5L442.5 301.2L438.8 295.0" fill="none" stroke="#bcbcbc" stroke-width="0.5"/>
<path d="M453.8 301.2L452.5 310.0L456.2 320.0L456.2 330.0" fill="none" stroke="#bcbcbc" stroke-width="0.5"/>
<path d="M438.8 295.0L435.0 301.2L438.8 305.0L442.5 301.2" fill="none" stroke="#bcbcbc" stroke-width="0.5"/>
<path d="M444.0 308.0L458.0 319.0" fill="none" stroke="#bcbcbc" stroke-width="0.5"/>
<path d="M432.0 300.0L430.0 308.0L432.0 320.0L430.0 328.0L434.0 336.0L439.0 340.0" fill="none" stroke="#bcbcbc" stroke-width="0.5"/>
<path d="M432.0 312.0L438.0 310.0L444.0 308.0" fill="none" stroke="#bcbcbc" stroke-width="0.5"/>
<path d="M391.0 332.0L400.0 332.0L403.0 336.0L412.0 337.0L414.0 346.0L418.0 347.0L424.0 346.0L429.0 350.0L430.0 345.0L428.0 341.0L432.0 339.0L439.0 340.0" fill="none" stroke="#bcbcbc" stroke-width="0.5"/>
<path d="M418.0 347.0L413.0 350.0L413.0 360.0L418.0 363.0L411.0 364.0L389.4 362.0" fill="none" stroke="#bcbcbc" stroke-width="0.5"/>
<path d="M411.0 364.0L410.0 376.0L408.0 383.0" fill="none" stroke="#bcbcbc" stroke-width="0.5"/>
<path d="M418.0 363.0L422.0 368.0L427.0 374.0L429.0 375.0" fill="none" stroke="#bcbcbc" stroke-width="0.5"/>
<path d="M418.0 363.0L425.0 359.0L430.0 356.0L434.0 354.0L438.0 360.0L437.0 368.0L433.0 375.6" fill="none" stroke="#bcbcbc" stroke-width="0.5"/>
<path d="M439.0 340.0L440.0 346.0L434.0 354.0" fill="none" stroke="#bcbcbc" stroke-width="0.5"/>
<path d="M439.0 340.0L442.0 346.0L443.0 354.0L444.4 359.0L441.6 358.0L440.0 352.0L440.0 346.0" fill="none" stroke="#bcbcbc" stroke-width="0.5"/>
<path d="M442.0 346.0L450.0 345.0L456.0 343.0" fill="none" stroke="#bcbcbc" stroke-width="0.5"/>
<path d="M384.0 312.0L390.0 310.0L396.0 304.0L400.0 300.0" fill="none" stroke="#bcbcbc" stroke-width="0.5"/>
<path d="M389.0 328.0L392.0 324.0L400.0 320.0L403.0 312.0L406.0 304.0L408.0 300.0" fill="none" stroke="#bcbcbc" stroke-width="0.5"/>
</g>
</svg>
<div class="t lg" style="left:157.5px;top:499.6px;font-size:13px;letter-spacing:0.2px">No data</div>
<div class="t lg" style="left:204.5px;top:499.6px;width:40px;text-align:center">0%</div>
<div class="t lg" style="left:263px;top:499.6px;width:40px;text-align:center">10%</div>
<div class="t lg" style="left:321.5px;top:499.6px;width:40px;text-align:center">20%</div>
<div class="t lg" style="left:380px;top:499.6px;width:40px;text-align:center">30%</div>
<div class="t lg" style="left:438.5px;top:499.6px;width:40px;text-align:center">40%</div>
<div class="t lg" style="left:497px;top:499.6px;width:40px;text-align:center">50%</div>
<div class="t lg" style="left:555.5px;top:499.6px;width:40px;text-align:center">60%</div>
<div class="t lg" style="left:614px;top:499.6px;width:40px;text-align:center">70%</div>
<div class="t ft" style="top:550.3px;letter-spacing:-0.13px"><b style="letter-spacing:-0.45px">Data source:</b> Energy Institute - Statistical Review of World Energy (2025)</div>
<div class="t ft" style="top:569.5px;letter-spacing:-0.08px"><b>Note:</b> Renewables include hydropower, solar, wind, geothermal, wave, tidal, and bioenergy, but not traditional biofuels.</div>
<div class="t ft" style="left:auto;right:18.5px;top:550px">OurWorldinData.org/energy | CC BY</div>
</body></html>
